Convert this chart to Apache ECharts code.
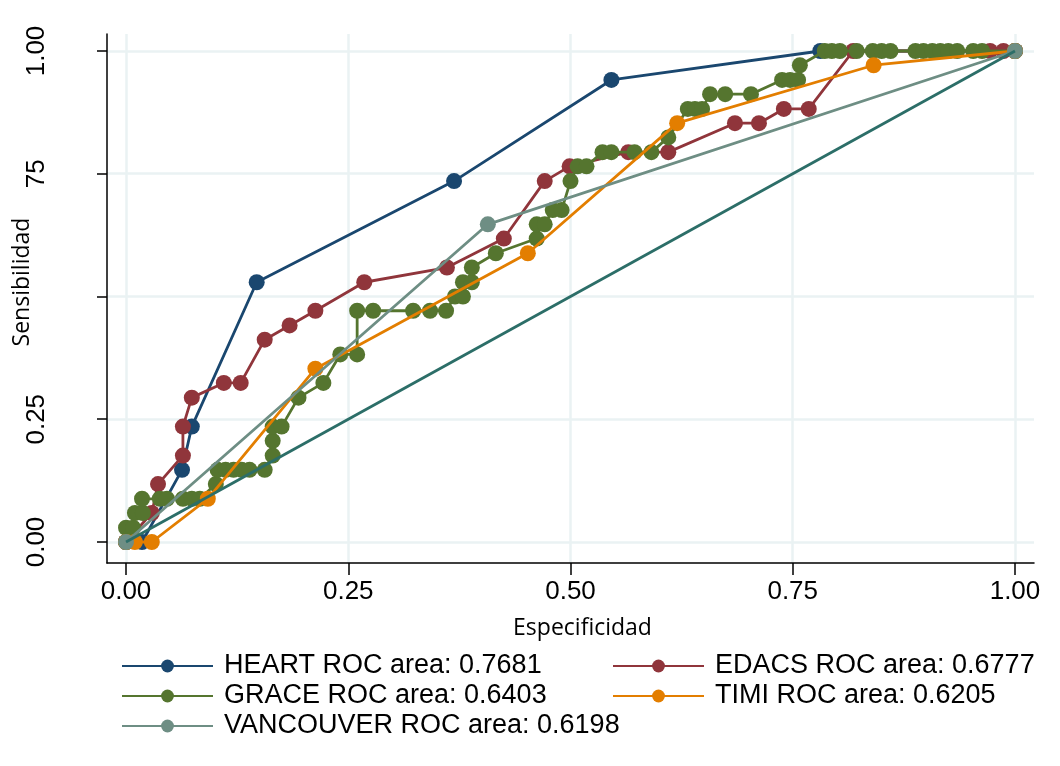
<!DOCTYPE html>
<html>
<head>
<meta charset="utf-8">
<script src="https://cdn.jsdelivr.net/npm/echarts@6/dist/echarts.min.js"></script>
<style>
  html, body { margin: 0; padding: 0; background: #fff; }
  #chart { width: 1060px; height: 766px; }
</style>
</head>
<body>
<div id="chart"></div>
<script>
// tick values and labels
const tickValues = [0, 0.25, 0.5, 0.75, 1];
const xTickLabels = ["0.00", "0.25", "0.50", "0.75", "1.00"];
const yTickLabels = ["0.00", "0.25", "", "75", "1.00"];

// legend text pieces
const modelNames = ["HEART", "EDACS", "GRACE", "TIMI", "VANCOUVER"];
const rocAreas = ["0.7681", "0.6777", "0.6403", "0.6205", "0.6198"];
const modelColors = ["#1a476f", "#90353b", "#55752f", "#e37e00", "#6e8e84"];

// ROC points [especificidad, sensibilidad]
const heartPts = [
  [0, 0], [0.018, 0], [0.063, 0.147], [0.074, 0.235], [0.147, 0.529],
  [0.369, 0.735], [0.546, 0.941], [0.781, 1], [1, 1]
];
const edacsPts = [
  [0, 0], [0.029, 0.059], [0.036, 0.118], [0.064, 0.176], [0.064, 0.235],
  [0.074, 0.294], [0.110, 0.324], [0.129, 0.324], [0.156, 0.412], [0.184, 0.441],
  [0.213, 0.471], [0.268, 0.529], [0.361, 0.559], [0.425, 0.618], [0.471, 0.735],
  [0.499, 0.765], [0.565, 0.794], [0.610, 0.794], [0.685, 0.853], [0.712, 0.853],
  [0.740, 0.882], [0.768, 0.882], [0.818, 1], [0.972, 1], [0.987, 1], [1, 1]
];
const gracePts = [
  [0, 0], [0, 0.029], [0.008, 0.029], [0.010, 0.059], [0.019, 0.059],
  [0.018, 0.088], [0.038, 0.088], [0.046, 0.088], [0.064, 0.088], [0.074, 0.088],
  [0.083, 0.088], [0.101, 0.118], [0.103, 0.147], [0.112, 0.147], [0.121, 0.147],
  [0.130, 0.147], [0.139, 0.147], [0.156, 0.147], [0.165, 0.176], [0.165, 0.206],
  [0.165, 0.235], [0.175, 0.235], [0.194, 0.294], [0.222, 0.324], [0.241, 0.382],
  [0.260, 0.382], [0.260, 0.471], [0.278, 0.471], [0.323, 0.471], [0.342, 0.471],
  [0.360, 0.471], [0.370, 0.500], [0.379, 0.500], [0.379, 0.529], [0.389, 0.529],
  [0.389, 0.559], [0.416, 0.588], [0.462, 0.618], [0.462, 0.647], [0.471, 0.647],
  [0.480, 0.676], [0.490, 0.676], [0.500, 0.735], [0.508, 0.765], [0.518, 0.765],
  [0.536, 0.794], [0.546, 0.794], [0.572, 0.794], [0.591, 0.794], [0.610, 0.824],
  [0.632, 0.882], [0.640, 0.882], [0.648, 0.882], [0.657, 0.912], [0.674, 0.912],
  [0.703, 0.912], [0.738, 0.941], [0.747, 0.941], [0.756, 0.941], [0.758, 0.971],
  [0.786, 1], [0.794, 1], [0.803, 1], [0.822, 1], [0.840, 1], [0.850, 1],
  [0.860, 1], [0.888, 1], [0.897, 1], [0.907, 1], [0.916, 1], [0.925, 1],
  [0.935, 1], [0.953, 1], [0.963, 1], [1, 1]
];
const timiPts = [
  [0, 0], [0.010, 0], [0.029, 0], [0.092, 0.088], [0.213, 0.353],
  [0.452, 0.588], [0.620, 0.853], [0.841, 0.971], [1, 1]
];
const vancouverPts = [[0, 0], [0.407, 0.647], [1, 1]];
const referencePts = [[0, 0], [1, 1]];

const allPts = [heartPts, edacsPts, gracePts, timiPts, vancouverPts];
const legendName = i => modelNames[i] + " ROC area: " + rocAreas[i];

const chart = echarts.init(document.getElementById("chart"));

const rocSeries = allPts.map((pts, i) => ({
  name: legendName(i),
  type: "line",
  data: pts,
  symbol: "circle",
  symbolSize: 16,
  showSymbol: true,
  color: modelColors[i],
  lineStyle: { width: 2.8, color: modelColors[i] },
  itemStyle: { color: modelColors[i], borderWidth: 0 },
  z: 2 + i
}));

const legendText = {
  fontFamily: "Liberation Sans, Arial, sans-serif",
  fontSize: 27,
  color: "#000",
  lineHeight: 30,
  padding: [0, 0, 0, 6]
};

const option = {
  animation: false,
  backgroundColor: "#fff",
  grid: { left: 107, right: 26, top: 34, bottom: 203, containLabel: false, outerBoundsMode: "none" },
  xAxis: {
    type: "value",
    min: -0.0214,
    max: 1.0214,
    name: "Especificidad",
    nameLocation: "middle",
    nameGap: 54,
    nameMoveOverlap: false,
    nameTextStyle: {
      fontFamily: "Open Sans, sans-serif",
      fontSize: 23,
      color: "#000",
      padding: [0, 0, 0, 24]
    },
    axisLine: { onZero: false, lineStyle: { color: "#000", width: 1.5 } },
    axisTick: { customValues: tickValues, length: 12, lineStyle: { color: "#000", width: 1.5 } },
    axisLabel: {
      customValues: tickValues,
      margin: 16,
      fontFamily: "Liberation Sans, Arial, sans-serif",
      fontSize: 26,
      color: "#000",
      formatter: v => xTickLabels[tickValues.indexOf(v)]
    },
    splitLine: { show: true, lineStyle: { color: "#eaf2f3", width: 2.5 } }
  },
  yAxis: {
    type: "value",
    min: -0.0428,
    max: 1.0346,
    name: "Sensibilidad",
    nameLocation: "middle",
    nameRotate: 90,
    nameGap: 73,
    nameMoveOverlap: false,
    nameTextStyle: {
      fontFamily: "Open Sans, sans-serif",
      fontSize: 23,
      color: "#000",
      padding: [0, 0, 0, 33]
    },
    axisLine: { onZero: false, lineStyle: { color: "#000", width: 1.5 } },
    axisTick: { customValues: tickValues, length: 10, lineStyle: { color: "#000", width: 1.5 } },
    axisLabel: {
      customValues: tickValues,
      rotate: 90,
      margin: 57,
      fontFamily: "Liberation Sans, Arial, sans-serif",
      fontSize: 26,
      color: "#000",
      formatter: v => yTickLabels[tickValues.indexOf(v)]
    },
    splitLine: { show: true, lineStyle: { color: "#eaf2f3", width: 2.5 } }
  },
  legend: [
    {
      orient: "vertical",
      left: 116,
      top: 646,
      itemWidth: 91,
      itemHeight: 16,
      itemGap: 0,
      data: [legendName(0), legendName(2), legendName(4)],
      textStyle: legendText
    },
    {
      orient: "vertical",
      left: 607,
      top: 646,
      itemWidth: 91,
      itemHeight: 16,
      itemGap: 0,
      data: [legendName(1), legendName(3)],
      textStyle: legendText
    }
  ],
  series: rocSeries.concat([{
    name: "reference",
    type: "line",
    data: referencePts,
    showSymbol: false,
    symbol: "none",
    lineStyle: { width: 2.8, color: "#2c6e68" },
    z: 10
  }])
};

chart.setOption(option);
</script>
</body>
</html>
